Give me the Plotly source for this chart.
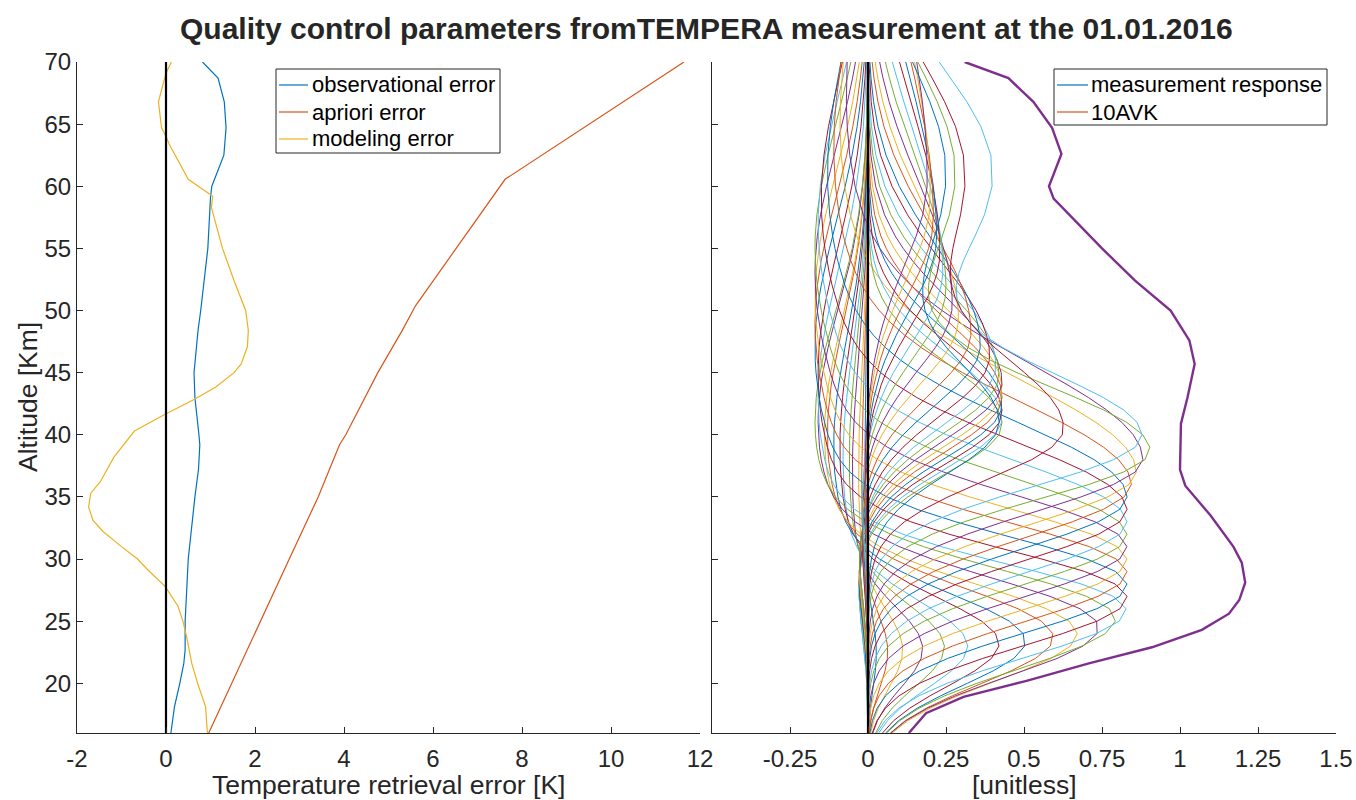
import numpy as np
import plotly.graph_objects as go

# ---------------- left panel: retrieval error profiles ----------------
obs_alt = [70.0, 68.7, 66.8, 64.7, 62.5, 60.0, 59.1, 55.0, 50.0, 48.4, 45.0, 43.0,
           40.0, 39.2, 37.2, 35.0, 30.0, 25.0, 22.7, 21.6, 20.0, 18.1, 16.0]
obs_err = [0.82, 1.17, 1.31, 1.35, 1.30, 1.03, 1.00, 0.94, 0.78, 0.72, 0.63, 0.65,
           0.74, 0.76, 0.73, 0.65, 0.50, 0.43, 0.43, 0.40, 0.31, 0.19, 0.11]

apr_alt = [70.0, 60.56, 50.4, 48.4, 45.0, 40.0, 39.2, 35.0, 30.0, 25.0, 20.0, 16.0]
apr_err = [11.64, 7.62, 5.61, 5.31, 4.76, 4.04, 3.90, 3.42, 2.77, 2.13, 1.48, 0.96]

mod_alt = [70.0, 69.1, 66.8, 64.7, 64.0, 63.4, 60.56, 60.0, 59.2, 58.3, 55.0, 52.4,
           50.0, 48.4, 47.1, 45.7, 45.0, 43.85, 42.78, 41.65, 40.3, 38.2, 36.2, 35.3,
           34.2, 33.1, 32.2, 31.0, 30.0, 29.1, 27.8, 26.2, 25.0, 23.8, 21.6, 20.0,
           18.1, 16.0]
mod_err = [0.12, 0.00, -0.17, -0.10, 0.00, 0.07, 0.50, 0.72, 1.05, 1.02, 1.27, 1.53,
           1.79, 1.85, 1.83, 1.69, 1.53, 1.12, 0.60, -0.02, -0.71, -1.17, -1.48, -1.69,
           -1.74, -1.64, -1.41, -1.00, -0.64, -0.40, -0.02, 0.27, 0.38, 0.46, 0.58, 0.71,
           0.89, 0.93]

# ---------------- right panel: measurement response ----------------
mr_alt = [70.0, 68.7, 66.8, 64.7, 62.6, 60.0, 59.0, 57.6, 55.0, 52.4, 50.0, 47.6,
          45.7, 43.0, 40.9, 37.2, 35.9, 33.5, 31.0, 29.7, 28.1, 26.7, 25.6, 24.3,
          22.9, 21.6, 20.2, 18.9, 17.6, 16.0]
mr_val = [0.31, 0.45, 0.53, 0.59, 0.62, 0.58, 0.595, 0.65, 0.75, 0.856, 0.97, 1.03,
          1.047, 1.024, 1.003, 1.00, 1.017, 1.098, 1.171, 1.198, 1.209, 1.19, 1.157, 1.07,
          0.91, 0.708, 0.508, 0.306, 0.186, 0.131]

# retrieval altitude grid of the averaging kernels [km]
avk_alt = [16, 17, 18, 19, 20, 21, 22, 23, 24, 25, 26, 27, 28, 29, 30, 31, 32, 33,
           34, 35, 36, 37, 38, 39, 40, 41, 42, 43, 44, 45, 46, 47, 48, 49, 50, 51,
           52, 53, 54, 55, 56, 57.7, 60.0, 62.5, 64.8, 66.8, 68.7, 70.0]

# averaging kernel rows, described by peak altitude, peak amplitude,
# lower / upper half widths, a negative side lobe and an upper shoulder
peak_alt = [22.6, 22.7, 22.8, 22.9, 23.0, 23.1, 23.3, 23.5, 23.8, 24.1, 24.6, 25.3,
            26, 27, 28, 29, 30, 31, 32, 33, 34, 35, 36, 37, 38,
            40.8, 41.3, 41.8, 42.4, 43.0, 43.6, 44.2, 44.8, 45.5, 46.3, 47.2, 48.2,
            49.3, 50.5, 51.8, 53.2, 54.6, 56.0, 57.5, 59.0, 60.5,
            38.7, 39.8, 40.3, 40.8]
peak_amp = [0.03, 0.07, 0.12, 0.19, 0.26, 0.34, 0.44, 0.53, 0.62, 0.70, 0.77, 0.83,
            0.865, 0.862, 0.858, 0.853, 0.849, 0.845, 0.842, 0.839, 0.837, 0.835, 0.847,
            0.862, 0.882,
            0.43, 0.43, 0.43, 0.43, 0.43, 0.43, 0.43, 0.42, 0.41, 0.39, 0.36, 0.33,
            0.29, 0.27, 0.25, 0.24, 0.23, 0.22, 0.21, 0.20, 0.19,
            0.895, 0.86, 0.61, 0.405]
width_lo = [3.0, 3.0, 3.1, 3.2, 3.3, 3.4, 3.5, 3.6, 3.8, 3.9, 4.0, 4.1,
            3.9, 3.9, 3.9, 4.0, 4.0, 4.0, 4.0, 4.1, 4.1, 4.1, 4.2, 4.2, 4.2,
            3.8, 3.9, 4.0, 4.1, 4.2, 4.3, 4.4, 4.5, 4.6, 4.7, 4.8, 4.9,
            5.0, 5.2, 5.4, 5.6, 5.8, 6.0, 6.3, 6.6, 7.0,
            3.9, 4.0, 4.0, 4.0]
width_hi = [3.0, 3.0, 3.1, 3.2, 3.3, 3.4, 3.5, 3.6, 3.7, 3.7, 3.8, 3.8,
            3.5, 3.6, 3.7, 3.8, 3.9, 4.1, 4.4, 4.8, 5.3, 5.9, 6.5, 7.1, 7.6,
            4.8, 5.1, 5.4, 5.7, 6.0, 6.3, 6.6, 6.9, 7.2, 7.6, 8.0, 8.6,
            9.2, 9.8, 10.5, 11.2, 12.0, 12.8, 13.6, 14.4, 15.2,
            5.2, 5.2, 6.0, 5.0]
lobe_amp = [0.01, 0.02, 0.03, 0.05, 0.06, 0.08, 0.09, 0.11, 0.13, 0.14, 0.16, 0.17,
            0.16, 0.16, 0.17, 0.17, 0.17, 0.17, 0.17, 0.16, 0.15, 0.13, 0.11, 0.09, 0.07,
            0.03, 0.03, 0.03, 0.03, 0.03, 0.03, 0.03, 0.03, 0.02, 0.02, 0.02, 0.02,
            0.02, 0.02, 0.02, 0.02, 0.01, 0.01, 0.01, 0.01, 0.01,
            0.0, 0.0, 0.0, 0.0]
lobe_alt = [36, 36, 37, 37, 38, 38, 39, 39, 40, 40, 41, 41,
            43, 45, 47, 49, 51, 53, 55, 57, 59, 61, 63, 65, 67,
            28, 28, 29, 29, 30, 30, 31, 31, 32, 32, 33, 33,
            34, 34, 35, 35, 36, 36, 37, 37, 38,
            60, 60, 60, 60]
lobe_width = [9] * 12 + [10] * 13 + [4] * 21 + [10] * 4
shoulder_amp = [0.0] * 46 + [0.28, 0.40, 0.31, 0.25]
shoulder_alt = [61.0] * 50
shoulder_width = [8.5] * 50

palette = ['#0072BD', '#D95319', '#EDB120', '#7E2F8E', '#77AC30', '#4DBEEE', '#A2142F']
INK = '#262626'
FONT = 'Liberation Sans, Arial, Helvetica, sans-serif'
W, H = 1356, 800


def kernel_row(k):
    z = np.asarray(avk_alt, dtype=float)
    w = np.where(z < peak_alt[k], width_lo[k], width_hi[k])
    row = peak_amp[k] * np.exp(-0.5 * ((z - peak_alt[k]) / w) ** 2)
    row -= lobe_amp[k] * np.exp(-0.5 * ((z - lobe_alt[k]) / lobe_width[k]) ** 2)
    row += shoulder_amp[k] * np.exp(-0.5 * ((z - shoulder_alt[k]) / shoulder_width[k]) ** 2)
    return row


fig = go.Figure()

# left panel
fig.add_trace(go.Scatter(x=obs_err, y=obs_alt, mode='lines', showlegend=False,
                         line=dict(color=palette[0], width=1.2), xaxis='x', yaxis='y'))
fig.add_trace(go.Scatter(x=apr_err, y=apr_alt, mode='lines', showlegend=False,
                         line=dict(color=palette[1], width=1.2), xaxis='x', yaxis='y'))
fig.add_trace(go.Scatter(x=mod_err, y=mod_alt, mode='lines', showlegend=False,
                         line=dict(color=palette[2], width=1.2), xaxis='x', yaxis='y'))
fig.add_trace(go.Scatter(x=[0, 0], y=[16, 70], mode='lines', showlegend=False,
                         line=dict(color='black', width=2.2), xaxis='x', yaxis='y'))

# right panel: kernel rows, zero line and measurement response
for k in range(len(peak_alt)):
    fig.add_trace(go.Scatter(x=kernel_row(k), y=avk_alt, mode='lines', showlegend=False,
                             line=dict(color=palette[k % 7], width=1),
                             xaxis='x2', yaxis='y2'))
fig.add_trace(go.Scatter(x=[0, 0], y=[16, 70], mode='lines', showlegend=False,
                         line=dict(color='black', width=2.2), xaxis='x2', yaxis='y2'))
fig.add_trace(go.Scatter(x=mr_val, y=mr_alt, mode='lines', showlegend=False,
                         line=dict(color=palette[3], width=2.4), xaxis='x2', yaxis='y2'))


# boxed legends (pixel layout)
def px(x):
    return x / W


def py(y):
    return 1 - y / H


shapes, annotations = [], []


def boxed_legend(box, rows, line_x, text_x):
    x0, y0, x1, y1 = box
    shapes.append(dict(type='rect', xref='paper', yref='paper',
                       x0=px(x0), x1=px(x1), y0=py(y0), y1=py(y1),
                       line=dict(color=INK, width=1), fillcolor='white', layer='above'))
    for label, color, yy in rows:
        shapes.append(dict(type='line', xref='paper', yref='paper',
                           x0=px(line_x[0]), x1=px(line_x[1]), y0=py(yy), y1=py(yy),
                           line=dict(color=color, width=1.2), layer='above'))
        annotations.append(dict(text=label, x=px(text_x), y=py(yy), xref='paper',
                                yref='paper', showarrow=False, xanchor='left',
                                yanchor='middle',
                                font=dict(family=FONT, size=22, color='black')))


boxed_legend((276, 69, 500, 153),
             [('observational error', palette[0], 85),
              ('apriori error', palette[1], 112),
              ('modeling error', palette[2], 139)],
             (279, 308), 310)
boxed_legend((1054, 69, 1327, 125),
             [('measurement response', palette[0], 85),
              ('10AVK', palette[1], 112)],
             (1057, 1088), 1089)

annotations += [
    dict(text='<b>Quality control parameters fromTEMPERA measurement at the 01.01.2016</b>',
         x=px(706), y=py(28), xref='paper', yref='paper', showarrow=False,
         xanchor='center', yanchor='middle', font=dict(family=FONT, size=30, color=INK)),
    dict(text='Temperature retrieval error [K]', x=px(388), y=py(785),
         xref='paper', yref='paper', showarrow=False, xanchor='center',
         yanchor='middle', font=dict(family=FONT, size=26.5, color=INK)),
    dict(text='[unitless]', x=px(1024), y=py(785),
         xref='paper', yref='paper', showarrow=False, xanchor='center',
         yanchor='middle', font=dict(family=FONT, size=26.5, color=INK)),
    dict(text='Altitude [Km]', x=px(28), y=py(397), textangle=-90,
         xref='paper', yref='paper', showarrow=False, xanchor='center',
         yanchor='middle', font=dict(family=FONT, size=26.5, color=INK)),
]

axis_common = dict(showline=True, linecolor=INK, linewidth=1, mirror=False,
                   ticks='inside', ticklen=6, tickcolor=INK, tickwidth=1,
                   showgrid=False, zeroline=False,
                   tickfont=dict(family=FONT, size=24, color=INK))
ydom = [1 - 733 / H, 1 - 62 / H]
alt_ticks = [20, 25, 30, 35, 40, 45, 50, 55, 60, 65, 70]
err_ticks = [-2, 0, 2, 4, 6, 8, 10, 12]
unit_ticks = [-0.25, 0, 0.25, 0.5, 0.75, 1, 1.25, 1.5]

fig.update_layout(
    width=W, height=H, autosize=False,
    margin=dict(l=0, r=0, t=0, b=0, autoexpand=False),
    paper_bgcolor='white', plot_bgcolor='white', showlegend=False,
    xaxis=dict(domain=[77 / W, 700 / W], range=[-2, 12], anchor='y',
               tickvals=err_ticks, ticktext=[f'{v:g}' for v in err_ticks],
               ticklabelstandoff=4, **axis_common),
    yaxis=dict(domain=ydom, range=[16, 70], anchor='x',
               tickvals=alt_ticks, ticktext=[str(v) for v in alt_ticks],
               **axis_common),
    xaxis2=dict(domain=[712 / W, 1336 / W], range=[-0.5, 1.5], anchor='y2',
                tickvals=unit_ticks, ticktext=[f'{v:g}' for v in unit_ticks],
                ticklabelstandoff=4, **axis_common),
    yaxis2=dict(domain=ydom, range=[16, 70], anchor='x2',
                tickvals=alt_ticks, showticklabels=False, **axis_common),
    shapes=shapes,
    annotations=annotations,
)

fig.write_html('out.html', config={'displayModeBar': False})
